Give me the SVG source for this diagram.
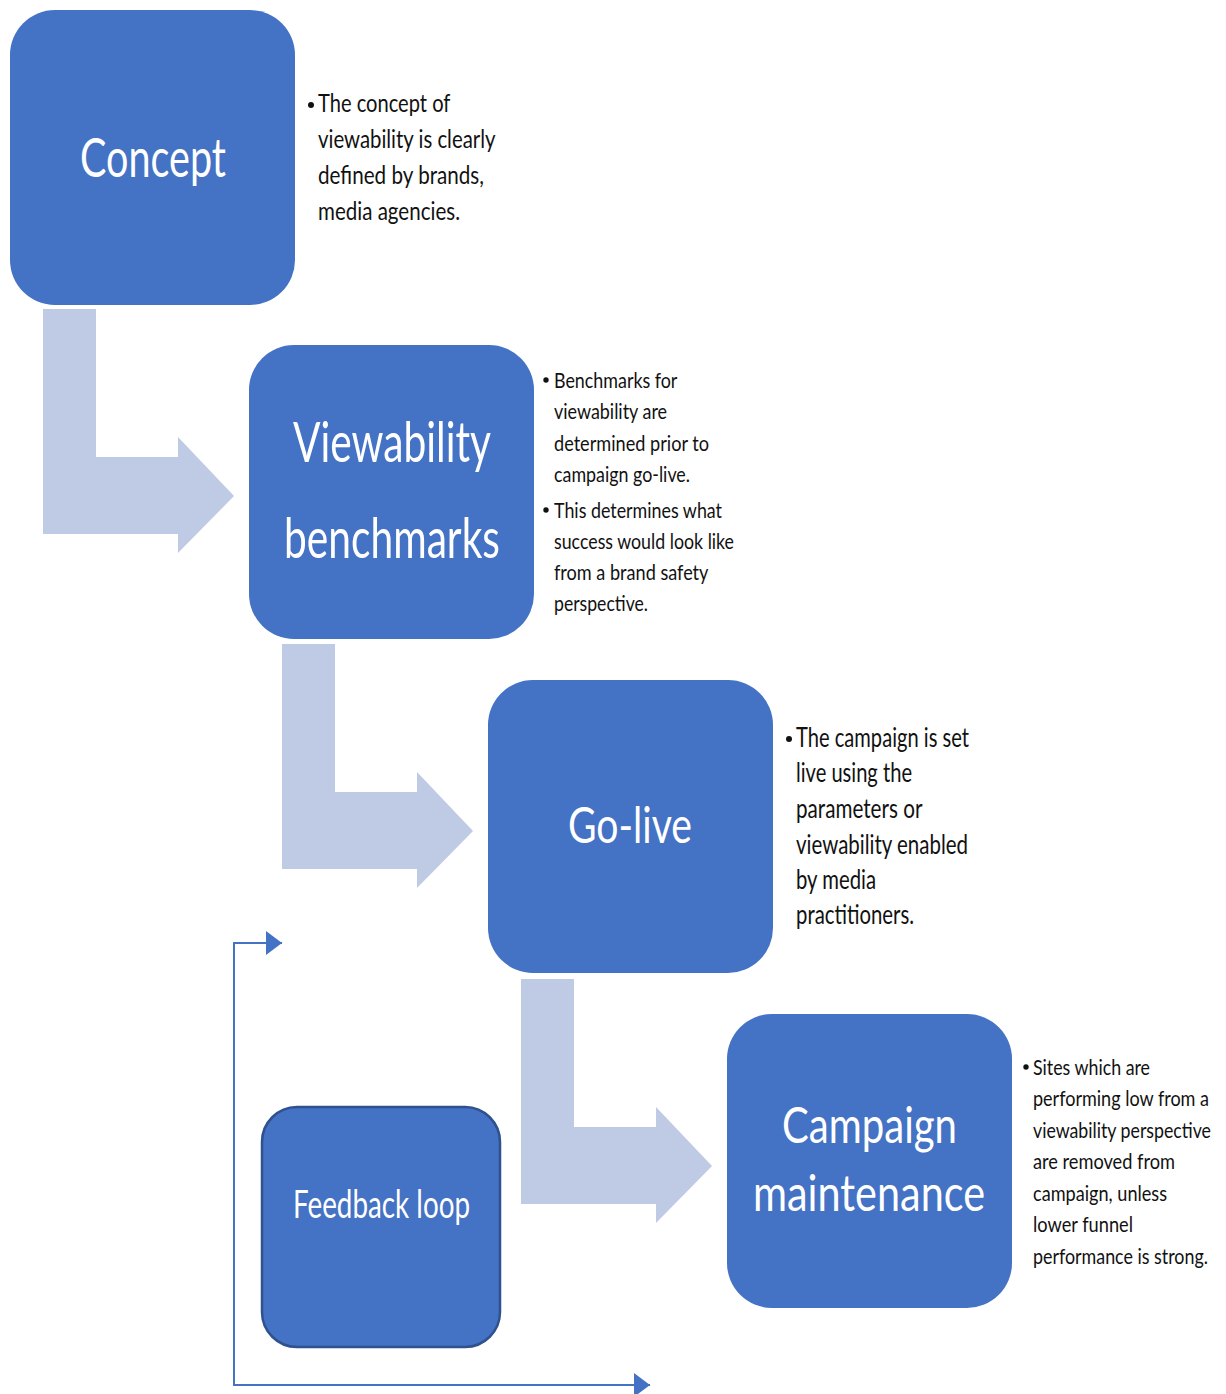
<svg xmlns="http://www.w3.org/2000/svg" width="1226" height="1394" viewBox="0 0 1226 1394">
<style>
.box{fill:#4472C4;}
.fb{fill:#4472C4;stroke:#2F528F;stroke-width:2.5;}
.bend{fill:#BFCAE4;}
.lbl{font-family:Lato,"Open Sans","Liberation Sans",sans-serif;fill:#FFFFFF;}
.note{font-family:Lato,"Open Sans","Liberation Sans",sans-serif;fill:#111111;}
.bul{fill:#111111;}
.conn{fill:none;stroke:#4472C4;stroke-width:2;}
</style>
<defs>
<marker id="ah" markerUnits="userSpaceOnUse" markerWidth="16" markerHeight="24" refX="16" refY="12" orient="auto-start-reverse">
<path d="M0,0 L16,12 L0,24 Z" fill="#4472C4"/>
</marker>
</defs>
<rect width="1226" height="1394" fill="#FFFFFF"/>

<g id="connectors">
<path class="bend" d="M43,309 H96 V457 H178 V437 L234,496 L178,553 V534 H43 Z"/>
<path class="bend" d="M282,644 H335 V792 H417 V772 L473,831 L417,888 V869 H282 Z"/>
<path class="bend" d="M521,979 H574 V1127 H656 V1107 L712,1166 L656,1223 V1204 H521 Z"/>
<path class="conn" d="M282,943 H234 V1385 H650" marker-start="url(#ah)" marker-end="url(#ah)"/>
</g>

<g id="concept">
<rect class="box" x="10" y="10" width="285" height="295" rx="45"/>
<text class="lbl" x="80" y="177" font-size="55" textLength="146" lengthAdjust="spacingAndGlyphs">Concept</text>
</g>
<g id="concept-notes">
<circle class="bul" cx="311" cy="105" r="3"/>
<text class="note" font-size="25">
<tspan x="318" y="112" textLength="132" lengthAdjust="spacingAndGlyphs">The concept of</tspan>
<tspan x="318" y="148" textLength="177" lengthAdjust="spacingAndGlyphs">viewability is clearly</tspan>
<tspan x="318" y="184" textLength="166" lengthAdjust="spacingAndGlyphs">defined by brands,</tspan>
<tspan x="318" y="220" textLength="142" lengthAdjust="spacingAndGlyphs">media agencies.</tspan>
</text>
</g>

<g id="viewability-benchmarks">
<rect class="box" x="249" y="345" width="285" height="294" rx="45"/>
<text class="lbl" font-size="57">
<tspan x="293" y="462" textLength="197" lengthAdjust="spacingAndGlyphs">Viewability</tspan>
<tspan x="284" y="558" textLength="216" lengthAdjust="spacingAndGlyphs">benchmarks</tspan>
</text>
</g>
<g id="benchmarks-notes">
<circle class="bul" cx="546" cy="380" r="2.7"/>
<circle class="bul" cx="546" cy="510" r="2.7"/>
<text class="note" font-size="21">
<tspan x="554" y="388" textLength="123" lengthAdjust="spacingAndGlyphs">Benchmarks for</tspan>
<tspan x="554" y="419" textLength="113" lengthAdjust="spacingAndGlyphs">viewability are</tspan>
<tspan x="554" y="451" textLength="155" lengthAdjust="spacingAndGlyphs">determined prior to</tspan>
<tspan x="554" y="482" textLength="136" lengthAdjust="spacingAndGlyphs">campaign go-live.</tspan>
<tspan x="554" y="518" textLength="168" lengthAdjust="spacingAndGlyphs">This determines what</tspan>
<tspan x="554" y="549" textLength="180" lengthAdjust="spacingAndGlyphs">success would look like</tspan>
<tspan x="554" y="580" textLength="154" lengthAdjust="spacingAndGlyphs">from a brand safety</tspan>
<tspan x="554" y="611" textLength="94" lengthAdjust="spacingAndGlyphs">perspective.</tspan>
</text>
</g>

<g id="go-live">
<rect class="box" x="488" y="680" width="285" height="293" rx="45"/>
<text class="lbl" x="568" y="843" font-size="51" textLength="124" lengthAdjust="spacingAndGlyphs">Go-live</text>
</g>
<g id="go-live-notes">
<circle class="bul" cx="789" cy="739" r="3"/>
<text class="note" font-size="26">
<tspan x="796" y="747" textLength="173" lengthAdjust="spacingAndGlyphs">The campaign is set</tspan>
<tspan x="796" y="782" textLength="116" lengthAdjust="spacingAndGlyphs">live using the</tspan>
<tspan x="796" y="818" textLength="126" lengthAdjust="spacingAndGlyphs">parameters or</tspan>
<tspan x="796" y="854" textLength="172" lengthAdjust="spacingAndGlyphs">viewability enabled</tspan>
<tspan x="796" y="889" textLength="80" lengthAdjust="spacingAndGlyphs">by media</tspan>
<tspan x="796" y="924" textLength="118" lengthAdjust="spacingAndGlyphs">practitioners.</tspan>
</text>
</g>

<g id="campaign-maintenance">
<rect class="box" x="727" y="1014" width="285" height="294" rx="45"/>
<text class="lbl" font-size="51">
<tspan x="782" y="1143" textLength="175" lengthAdjust="spacingAndGlyphs">Campaign</tspan>
<tspan x="753" y="1211" textLength="232" lengthAdjust="spacingAndGlyphs">maintenance</tspan>
</text>
</g>
<g id="campaign-notes">
<circle class="bul" cx="1026" cy="1067" r="2.7"/>
<text class="note" font-size="21">
<tspan x="1033" y="1075" textLength="117" lengthAdjust="spacingAndGlyphs">Sites which are</tspan>
<tspan x="1033" y="1106" textLength="176" lengthAdjust="spacingAndGlyphs">performing low from a</tspan>
<tspan x="1033" y="1138" textLength="178" lengthAdjust="spacingAndGlyphs">viewability perspective</tspan>
<tspan x="1033" y="1169" textLength="142" lengthAdjust="spacingAndGlyphs">are removed from</tspan>
<tspan x="1033" y="1201" textLength="134" lengthAdjust="spacingAndGlyphs">campaign, unless</tspan>
<tspan x="1033" y="1232" textLength="100" lengthAdjust="spacingAndGlyphs">lower funnel</tspan>
<tspan x="1033" y="1264" textLength="175" lengthAdjust="spacingAndGlyphs">performance is strong.</tspan>
</text>
</g>

<g id="feedback-loop">
<rect class="fb" x="262" y="1107" width="238" height="240" rx="35"/>
<text class="lbl" x="293" y="1218" font-size="39" textLength="177" lengthAdjust="spacingAndGlyphs">Feedback loop</text>
</g>
</svg>
